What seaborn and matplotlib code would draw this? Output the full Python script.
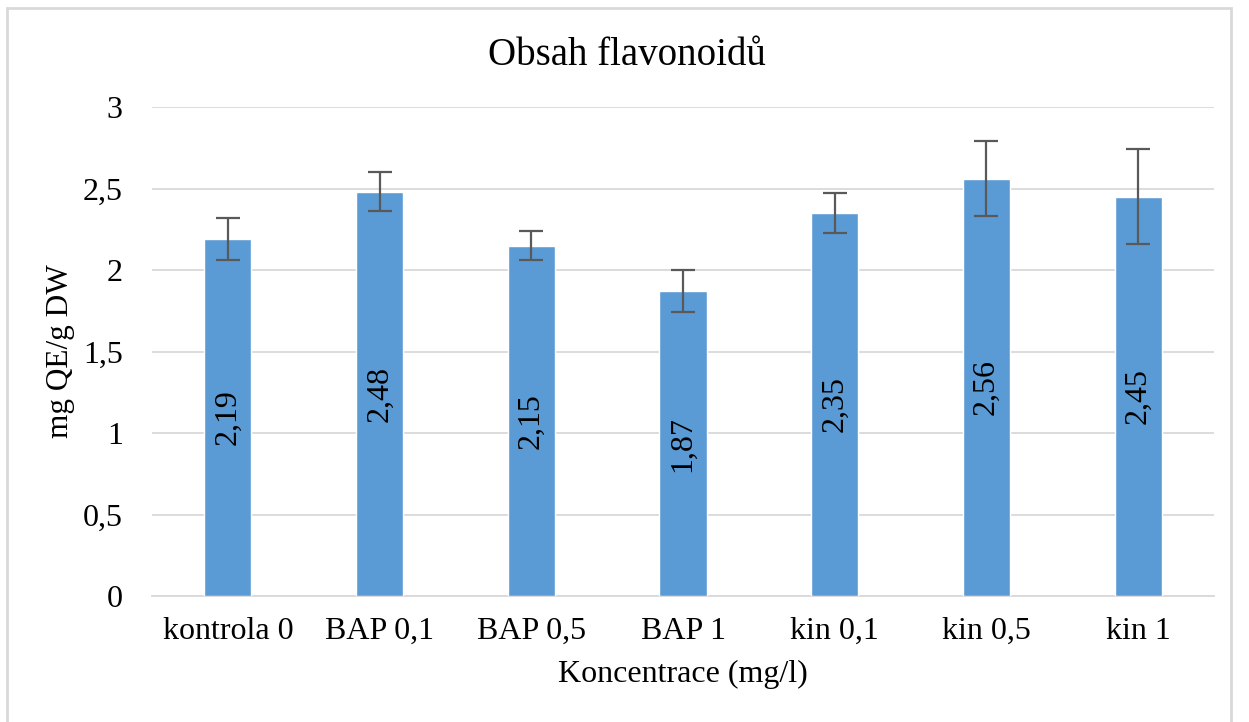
import matplotlib
matplotlib.use("Agg")
import matplotlib.pyplot as plt
import seaborn as sns
import pandas as pd
from matplotlib.patches import Rectangle

categories = ["kontrola 0", "BAP 0,1", "BAP 0,5", "BAP 1", "kin 0,1", "kin 0,5", "kin 1"]
values = [2.19, 2.48, 2.15, 1.87, 2.35, 2.56, 2.45]
errors = [0.13, 0.12, 0.09, 0.13, 0.12, 0.23, 0.29]
y_ticks = [0, 0.5, 1, 1.5, 2, 2.5, 3]
y_tick_labels = ["0", "0,5", "1", "1,5", "2", "2,5", "3"]
value_labels = ["2,19", "2,48", "2,15", "1,87", "2,35", "2,56", "2,45"]

sns.set_theme(style="white")
plt.rcParams['font.family'] = ['Liberation Serif', 'DejaVu Serif']
plt.rcParams['text.color'] = 'black'

df = pd.DataFrame({"cat": categories, "val": values})

fig = plt.figure(figsize=(12.49, 7.22), dpi=100)
ax = fig.add_axes([0.1217, 0.1745, 0.972 - 0.1217, 0.8518 - 0.1745])

sns.barplot(data=df, x="cat", y="val", color="#5B9BD5", saturation=1, width=0.31, ax=ax, zorder=3)

xs = [p.get_x() + p.get_width() / 2 for p in ax.patches]
ax.errorbar(xs, values, yerr=errors, fmt="none", ecolor="#595959", elinewidth=1.6, capsize=8.5, capthick=1.6, zorder=4)

ax.bar_label(ax.containers[0], labels=value_labels, label_type="center", rotation=90, fontsize=23, color="black")

ax.set_ylim(0, 3)
ax.set_yticks(y_ticks)
ax.set_yticklabels(y_tick_labels)
ax.set_xlim(-0.5, len(categories) - 0.5)
ax.yaxis.grid(True, color="#d9d9d9", linewidth=1.3, zorder=0)
ax.set_axisbelow(True)
for s in ["top", "right", "left"]:
    ax.spines[s].set_visible(False)
ax.spines["bottom"].set_color("#d9d9d9")
ax.spines["bottom"].set_linewidth(1.3)
ax.tick_params(axis="both", length=0, labelsize=23, colors="black")
ax.tick_params(axis="x", pad=15)
ax.tick_params(axis="y", pad=21)

ax.set_xlabel("Koncentrace (mg/l)", fontsize=23, labelpad=10, color="black")
ax.set_ylabel("mg QE/g DW", fontsize=22.5, labelpad=6, color="black")
fig.text(0.502, 0.923, "Obsah flavonoidů", ha="center", va="center", fontsize=28, color="black")

fig.patches.append(Rectangle((7 / 1249, -0.05), (1231 - 7) / 1249, 1.05 - 8 / 722,
                             transform=fig.transFigure, fill=False, edgecolor="#d9d9d9", linewidth=2))

fig.savefig("out.png", dpi=100, facecolor="white")
